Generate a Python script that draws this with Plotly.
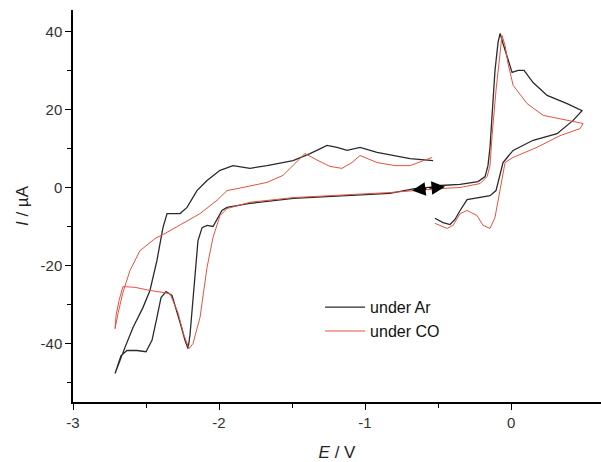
import plotly.graph_objects as go

# ---- data (E in V, I in uA) ----
# under Ar, cathodic part (negative scan and its return)
ar_neg_E = [-0.49, -0.66, -0.83, -1.24, -1.49, -1.79, -1.945, -1.98, -2.007, -2.041, -2.082, -2.116,
            -2.144, -2.158, -2.178, -2.199, -2.212, -2.233, -2.267, -2.322, -2.363, -2.397, -2.425,
            -2.459, -2.50, -2.562, -2.63, -2.671, -2.712,
            -2.685, -2.644, -2.589, -2.521, -2.473, -2.425, -2.384, -2.356, -2.267, -2.219, -2.151,
            -2.082, -1.993, -1.904, -1.788, -1.671, -1.493, -1.377, -1.26, -1.192, -1.123, -1.034,
            -0.918, -0.808, -0.692, -0.534]
ar_neg_I = [0.3, -0.3, -1.5, -2.3, -2.8, -4.1, -5.1, -5.9, -7.9, -10.0, -9.7, -10.3,
            -13.6, -20.0, -29.0, -37.9, -41.3, -39.2, -34.6, -27.7, -26.7, -28.2, -33.3,
            -39.2, -42.1, -41.8, -41.8, -43.1, -47.7,
            -44.9, -41.0, -35.9, -30.8, -26.4, -18.7, -10.3, -6.7, -6.7, -5.1, -0.8,
            1.8, 4.4, 5.6, 4.9, 5.6, 6.9, 8.7, 10.8, 10.3, 9.5, 10.3,
            9.0, 8.2, 7.4, 6.9]
# under Ar, anodic part
ar_pos_E = [-0.486, -0.349, -0.226, -0.178, -0.158, -0.144, -0.130, -0.110, -0.089, -0.075, -0.055,
            -0.027, 0.007, 0.048, 0.089, 0.151, 0.247, 0.384, 0.486,
            0.425, 0.315, 0.151, 0.014, -0.055, -0.089, -0.103, -0.144, -0.233, -0.301, -0.349,
            -0.384, -0.418, -0.466, -0.521]
ar_pos_I = [0.5, 0.8, 1.5, 2.8, 5.6, 10.3, 18.5, 30.0, 37.2, 39.5, 36.9,
            33.8, 29.5, 30.0, 30.0, 26.9, 23.6, 21.5, 19.7,
            17.2, 13.8, 12.1, 9.5, 6.4, 1.8, -0.8, -2.1, -2.6, -3.1, -5.9,
            -8.2, -9.5, -9.0, -7.9]

# under CO, cathodic part
co_neg_E = [-0.486, -0.658, -0.829, -1.24, -1.493, -1.788, -1.945, -1.993, -2.041, -2.082, -2.13,
            -2.178, -2.205, -2.24, -2.281, -2.336, -2.473, -2.575, -2.658, -2.685, -2.705, -2.712,
            -2.692, -2.658, -2.61, -2.541, -2.438, -2.356, -2.233, -2.13, -2.014, -1.945, -1.836,
            -1.671, -1.562, -1.479, -1.411, -1.322, -1.24, -1.158, -1.089, -1.034, -0.918, -0.795,
            -0.692, -0.541]
co_neg_I = [-0.3, -0.8, -1.3, -2.1, -2.6, -3.8, -5.4, -7.2, -12.8, -20.5, -33.3,
            -40.0, -41.3, -37.9, -32.1, -27.2, -26.4, -25.6, -25.4, -29.0, -32.8, -36.2,
            -32.3, -26.9, -21.3, -16.2, -13.1, -11.5, -9.0, -6.7, -3.3, -0.8, 0.0,
            1.3, 3.1, 6.2, 8.7, 6.9, 5.4, 4.9, 6.4, 8.2, 6.4, 5.6,
            5.6, 7.7]
# under CO, anodic part
co_pos_E = [-0.486, -0.349, -0.212, -0.164, -0.144, -0.130, -0.103, -0.075, -0.062, -0.041, -0.021,
            0.014, 0.110, 0.219, 0.384, 0.493,
            0.473, 0.336, 0.178, 0.014, -0.041, -0.075, -0.110, -0.144, -0.192, -0.233, -0.301,
            -0.349, -0.397, -0.438, -0.521]
co_pos_I = [-0.3, 0.0, 1.0, 2.8, 5.6, 13.3, 24.9, 35.6, 39.0, 36.4, 31.8,
            26.2, 21.5, 18.5, 17.2, 16.4,
            15.1, 13.3, 10.3, 7.7, 6.4, -0.8, -7.7, -10.5, -9.7, -7.2, -5.9,
            -6.7, -9.7, -10.5, -9.2]

# scan-direction arrows: (tail E, tail I, head E, head I)
arrow_left = (-0.57, -0.3, -0.678, -0.8)
arrow_right = (-0.57, -0.2, -0.452, 0.2)

x_ticks = [-3, -2, -1, 0]
x_ticktext = ["-3", "-2", "-1", "0"]
x_minor = [-2.5, -1.5, -0.5]
y_ticks = [-40, -20, 0, 20, 40]
y_ticktext = ["-40", "-20", "0", "20", "40"]
y_minor = [-50, -30, -10, 10, 30]

series_names = ["under Ar", "under CO"]

fig = go.Figure()
fig.add_trace(go.Scatter(x=ar_neg_E + [None] + ar_pos_E, y=ar_neg_I + [None] + ar_pos_I,
                         mode="lines", name=series_names[0],
                         line=dict(color="#2a2a2a", width=1.3), connectgaps=False))
fig.add_trace(go.Scatter(x=co_neg_E + [None] + co_pos_E, y=co_neg_I + [None] + co_pos_I,
                         mode="lines", name=series_names[1],
                         line=dict(color="#e8513f", width=1.0), connectgaps=False))

for tx, ty, hx, hy in (arrow_left, arrow_right):
    fig.add_annotation(x=hx, y=hy, ax=tx, ay=ty, xref="x", yref="y", axref="x", ayref="y",
                       showarrow=True, arrowhead=2, arrowsize=1.8, arrowwidth=1.5,
                       arrowcolor="black", text="")

fig.update_layout(
    width=601, height=462,
    margin=dict(l=73, r=0, t=10, b=60),
    paper_bgcolor="white", plot_bgcolor="white",
    font=dict(family="Liberation Sans, Arial, sans-serif", color="#333333", size=15),
    showlegend=True,
    legend=dict(x=0.468, y=0.285, xanchor="left", yanchor="top", bgcolor="rgba(0,0,0,0)",
                font=dict(size=16, color="#111111"), tracegroupgap=0, itemwidth=40),
)
fig.update_xaxes(range=[-3, 0.616], showgrid=False, zeroline=False,
                 showline=True, linecolor="black", linewidth=1.5,
                 tickmode="array", tickvals=x_ticks, ticktext=x_ticktext,
                 ticks="outside", ticklen=6, tickwidth=1.2, tickcolor="black",
                 minor=dict(tickvals=x_minor, ticks="outside", ticklen=4, tickcolor="black"),
                 title=dict(text="<i>E</i> / V", font=dict(size=17, color="#222222"), standoff=18))
fig.update_yaxes(range=[-55, 45.5], showgrid=False, zeroline=False,
                 showline=True, linecolor="black", linewidth=1.5,
                 tickmode="array", tickvals=y_ticks, ticktext=y_ticktext,
                 ticks="outside", ticklen=6, tickwidth=1.2, tickcolor="black",
                 minor=dict(tickvals=y_minor, ticks="outside", ticklen=4, tickcolor="black"),
                 title=dict(text="<i>I</i> / µA", font=dict(size=17, color="#222222"), standoff=8))

fig.write_html("out.html")
